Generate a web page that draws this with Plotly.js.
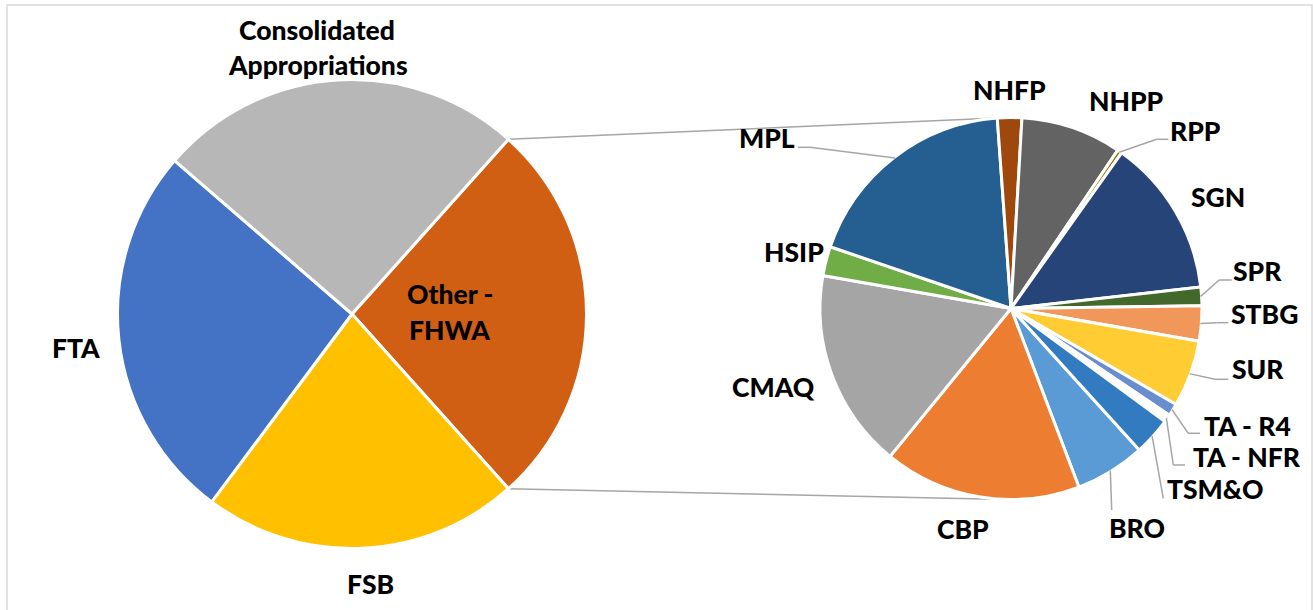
<!DOCTYPE html>
<html>
<head>
<meta charset="utf-8">
<script src="https://cdn.plot.ly/plotly-3.0.1.min.js"></script>
<style>
html, body { margin: 0; padding: 0; background: #ffffff; }
#chart { width: 1313px; height: 610px; }
</style>
</head>
<body>
<div id="chart"></div>
<script>
// ---------------- DATA ----------------
const mainLabels = ['Other - FHWA', 'FSB', 'FTA', 'Consolidated Appropriations'];
const mainValues = [26.75, 21.83, 26.14, 25.28];
const mainColors = ['#D05F14', '#FFC000', '#4472C4', '#B7B7B7'];

const subLabels = ['BRO', 'CBP', 'CMAQ', 'HSIP', 'MPL', 'NHFP', 'NHPP', 'RPP', 'SGN', 'SPR', 'STBG', 'SUR', 'TA - R4', 'TA - NFR', 'TSM&O'];
const subValues = [5.94, 16.69, 16.86, 2.47, 18.61, 2.06, 8.53, 0.39, 13.36, 1.58, 2.97, 5.64, 1.06, 0.64, 3.19];
const subColors = ['#5B9BD5', '#ED7D31', '#A5A5A5', '#70AD47', '#255E91', '#9E480E', '#636363', '#997300', '#264478', '#43682B', '#F1975A', '#FFCD33', '#698ED0', '#FFFFFF', '#327BC0'];

// ---------------- LAYOUT GEOMETRY (pixels) ----------------
const W = 1313, H = 610;
const mainGeo = { cx: 352, cy: 314, r: 234.5 };
const subGeo = { cx: 1011, cy: 308.5, r: 191 };
const subRotation = 137.8;

const labelFont = { family: 'Lato, "Open Sans", sans-serif', size: 26.5, color: '#000000', weight: 900 };
const lineColor = '#A6A6A6';

// label text lines and their pixel centres
const mainLabelPos = {
  'Consolidated Appropriations': [['Consolidated', 317, 29.7], ['Appropriations', 317.7, 64.5]],
  'Other - FHWA': [['Other -', 450, 294], ['FHWA', 449.6, 330]],
  'FTA': [['FTA', 76.3, 347.6]],
  'FSB': [['FSB', 370, 584]]
};
const subLabelPos = {
  'NHFP': [1009, 90], 'NHPP': [1126, 100.7], 'RPP': [1195.5, 130.7], 'SGN': [1218, 197.3],
  'SPR': [1257.5, 270.7], 'STBG': [1264, 314], 'SUR': [1257.5, 369], 'TA - R4': [1247.5, 425.7],
  'TA - NFR': [1246.7, 457.3], 'TSM&O': [1215, 489], 'BRO': [1137, 528.3], 'CBP': [962.7, 529],
  'CMAQ': [773, 387.3], 'HSIP': [794, 251.7], 'MPL': [767, 137.7]
};
// leader line bend / end points (pixels)
const leaderPath = {
  'MPL': [[810, 147.3], [798, 147.3]],
  'RPP': [[1156.7, 139.3], [1168.3, 139.3]],
  'SPR': [[1219.3, 280], [1231.7, 280]],
  'STBG': [[1216.7, 322.7], [1228.3, 322.7]],
  'SUR': [[1215, 379.3], [1228.3, 379.3]],
  'TA - R4': [[1188.3, 433.3], [1200, 433.3]],
  'TA - NFR': [[1173.3, 465], [1185, 465]],
  'TSM&O': [[1163.3, 498.3]],
  'BRO': [[1111.7, 510]]
};

// ---------------- HELPERS ----------------
const X = px => px / W;
const Y = py => 1 - py / H;
const sum = a => a.reduce((s, v) => s + v, 0);
function domainFor(g) {
  return { x: [X(g.cx - g.r), X(g.cx + g.r)], y: [Y(g.cy + g.r), Y(g.cy - g.r)] };
}
function polar(g, deg, r) {
  const a = deg * Math.PI / 180;
  return [g.cx + r * Math.sin(a), g.cy - r * Math.cos(a)];
}
function tangents(P, g) {
  const dx = P[0] - g.cx, dy = P[1] - g.cy;
  const d = Math.hypot(dx, dy);
  const ux = dx / d, uy = dy / d;
  const a = Math.acos(g.r / d);
  const c = Math.cos(a), s = Math.sin(a);
  const t1 = [g.cx + g.r * (c * ux - s * uy), g.cy + g.r * (s * ux + c * uy)];
  const t2 = [g.cx + g.r * (c * ux + s * uy), g.cy + g.r * (-s * ux + c * uy)];
  return t1[1] < t2[1] ? [t1, t2] : [t2, t1];
}
function seg(p, q, color, width, layer) {
  return { type: 'line', xref: 'paper', yref: 'paper', x0: X(p[0]), y0: Y(p[1]), x1: X(q[0]), y1: Y(q[1]),
           line: { color: color, width: width }, layer: layer || 'above' };
}

// main pie: "Other" slice centred on 3 o'clock
const mainTotal = sum(mainValues);
const mainRotation = 90 - (mainValues[0] / mainTotal) * 180;

// ---------------- TRACES ----------------
const traces = [
  {
    type: 'pie', labels: mainLabels, values: mainValues, sort: false, direction: 'clockwise',
    rotation: mainRotation, textinfo: 'none', hoverinfo: 'none', showlegend: false,
    marker: { colors: mainColors, line: { color: '#FFFFFF', width: 3 } },
    domain: domainFor(mainGeo)
  },
  {
    type: 'pie', labels: subLabels, values: subValues, sort: false, direction: 'clockwise',
    rotation: subRotation, textinfo: 'none', hoverinfo: 'none', showlegend: false,
    marker: { colors: subColors, line: { color: '#FFFFFF', width: 3 } },
    domain: domainFor(subGeo)
  }
];

// ---------------- SHAPES ----------------
const shapes = [];
// chart border
shapes.push({ type: 'rect', xref: 'paper', yref: 'paper', x0: X(7), x1: X(1312), y0: Y(640), y1: Y(5),
              line: { color: '#D9D9D9', width: 1.5 }, layer: 'below' });

// connector lines from "Other" slice edges, tangent to secondary pie
const otherDeg = mainValues[0] / mainTotal * 360;
const pTop = polar(mainGeo, mainRotation, mainGeo.r);
const pBot = polar(mainGeo, mainRotation + otherDeg, mainGeo.r);
shapes.push(seg(pTop, tangents(pTop, subGeo)[0], lineColor, 1.5, 'below'));
shapes.push(seg(pBot, tangents(pBot, subGeo)[1], lineColor, 1.5, 'below'));

// leader lines for secondary pie labels, starting at slice mid-angle
const subTotal = sum(subValues);
let cum = 0;
subLabels.forEach((lab, i) => {
  const mid = subRotation + (cum + subValues[i] / 2) / subTotal * 360;
  cum += subValues[i];
  if (!leaderPath[lab]) return;
  let prev = polar(subGeo, mid, subGeo.r - 1);
  leaderPath[lab].forEach(pt => { shapes.push(seg(prev, pt, lineColor, 1.5)); prev = pt; });
});

// ---------------- ANNOTATIONS ----------------
const annotations = [];
mainLabels.forEach(lab => {
  (mainLabelPos[lab] || []).forEach(([t, x, y]) => {
    annotations.push({ text: t, x: X(x), y: Y(y), xref: 'paper', yref: 'paper', showarrow: false,
                       xanchor: 'center', yanchor: 'middle', font: labelFont });
  });
});
subLabels.forEach(lab => {
  const p = subLabelPos[lab];
  if (!p) return;
  annotations.push({ text: lab, x: X(p[0]), y: Y(p[1]), xref: 'paper', yref: 'paper', showarrow: false,
                     xanchor: 'center', yanchor: 'middle', font: labelFont });
});

const layout = {
  width: W, height: H,
  margin: { l: 0, r: 0, t: 0, b: 0, pad: 0 },
  paper_bgcolor: '#FFFFFF', plot_bgcolor: '#FFFFFF',
  showlegend: false,
  shapes: shapes,
  annotations: annotations
};

Plotly.newPlot('chart', traces, layout, { staticPlot: true, displayModeBar: false });
</script>
</body>
</html>
